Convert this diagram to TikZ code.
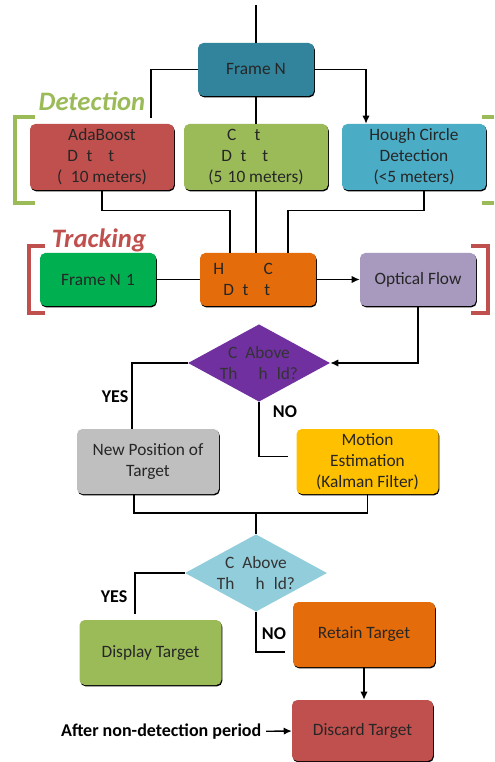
\documentclass[tikz,border=0pt]{standalone}
\usepackage{fontspec}
\setmainfont{Carlito}
\usetikzlibrary{arrows.meta,positioning,shapes.geometric,shadows}

\definecolor{teal1}{HTML}{31849B}
\definecolor{red1}{HTML}{C0504D}
\definecolor{olive1}{HTML}{9BBB59}
\definecolor{aqua1}{HTML}{4BACC6}
\definecolor{green1}{HTML}{00B050}
\definecolor{orange1}{HTML}{E46C0A}
\definecolor{lilac1}{HTML}{A89ABF}
\definecolor{purple1}{HTML}{7030A0}
\definecolor{grey1}{HTML}{BFBFBF}
\definecolor{gold1}{HTML}{FFC000}
\definecolor{sky1}{HTML}{92CDDC}

\tikzset{
  box/.style={rectangle,rounded corners=4pt,align=center,text=black!85,inner sep=1pt,
    font=\fontsize{13}{15.75}\selectfont,
    drop shadow={shadow xshift=0.6pt,shadow yshift=-1pt,fill=black,opacity=1}},
  widebox/.style={box,minimum width=108pt,minimum height=49.5pt},
  smallbox/.style={box,minimum width=87pt,minimum height=39.75pt},
  midbox/.style={box,minimum width=106.5pt,minimum height=48.75pt},
  decision/.style={diamond,shape aspect=1.84,minimum width=106.5pt,minimum height=58pt,
    inner sep=0pt,align=center,text=black!80,font=\fontsize{13}{15.75}\selectfont},
  link/.style={line width=1pt},
  flow/.style={link,-{Latex[length=6pt,width=5.5pt]}},
  lbl/.style={font=\bfseries\fontsize{13.5}{15}\selectfont},
  stage/.style={font=\bfseries\itshape\fontsize{20}{22}\selectfont},
  bracket/.style={line width=3.5pt}
}

\begin{document}
\begin{tikzpicture}[x=0.75pt,y=-0.75pt]
  \useasboundingbox (0,0) rectangle (494,762);

  \draw[bracket,olive1] (35,117) -- (15,117) -- (15,203) -- (35,203);
  \draw[bracket,olive1] (482,117) -- (494,117);
  \draw[bracket,olive1] (482,203) -- (494,203);
  \draw[bracket,red1] (45,246) -- (29,246) -- (29,313) -- (45,313);
  \draw[bracket,red1] (471,246) -- (488,246) -- (488,313) -- (471,313);

  \node[stage,text=olive1] (DL) at (92,101) {Detection};
  \node[stage,text=red1] (TL) at (99,240) {Tracking};

  \coordinate (T) at (256,5);
  \node[smallbox,fill=teal1] (FN) at (256,69.5) {Frame N};

  \node[widebox,fill=red1] (AB) at (102,157) {AdaBoost\\D\phantom{e}t\phantom{ec}t\phantom{ion}\\(\phantom{>}10 meters)};
  \node[widebox,fill=olive1] (CD) at (256,157) {C\phantom{on}t\phantom{our}\\D\phantom{e}t\phantom{ec}t\phantom{ion}\\(5\phantom{-}10 meters)};
  \node[widebox,fill=aqua1] (HC) at (414,157) {Hough Circle\\Detection\\(<5 meters)};

  \node[smallbox,fill=green1] (FN1) at (98,279.5) {Frame N\phantom{-}1};
  \node[smallbox,fill=orange1] (HCD) at (258,279.5) {H\phantom{ough} C\phantom{ircle}\\D\phantom{e}t\phantom{ec}t\phantom{ion}};
  \node[smallbox,fill=lilac1] (OF) at (418,279.5) {Optical Flow};

  \node[decision,fill=purple1] (D1) at (259,363) {C\phantom{i} Above\\Th\phantom{res}h\phantom{o}ld?};
  \node[midbox,fill=grey1] (NP) at (148,461.5) {New Position of\\Target};
  \node[midbox,fill=gold1] (ME) at (367.5,461.5) {Motion\\Estimation\\(Kalman Filter)};

  \coordinate (J) at (256,513);
  \node[decision,fill=sky1] (D2) at (256,573) {C\phantom{i} Above\\Th\phantom{res}h\phantom{o}ld?};
  \node[midbox,fill=olive1] (DT) at (150.5,652.5) {Display Target};
  \node[midbox,fill=orange1] (RT) at (364,634.5) {Retain Target};
  \node[box,fill=red1,minimum width=105.75pt,minimum height=45.75pt] (DC) at (362.5,730.5) {Discard Target};
  \node[lbl,anchor=east] (AN) at (266,732) {After non-detection period};

  \node[lbl] (Y1) at (115,397) {YES};
  \node[lbl] (N1) at (285,412) {NO};
  \node[lbl] (Y2) at (114,597) {YES};
  \node[lbl] (N2) at (274,634) {NO};

  \draw[link] (T) -- (FN.north);
  \draw[link] (FN.west) -| ([xshift=36.75pt,yshift=4.5pt]AB.north);
  \draw[link] (FN.south) -- (CD.north);
  \draw[flow] (FN.east) -| ([xshift=-36pt]HC.north);
  \draw[link] (AB.south) -- ++(0,20) -| ([xshift=-21pt]HCD.north);
  \draw[link] (CD.south) -- (CD.south |- HCD.north);
  \draw[link] ([xshift=7.5pt]HC.south) -- ++(0,20) -| ([xshift=22.5pt]HCD.north);
  \draw[link] (FN1) -- (HCD);
  \draw[flow] (HCD) -- (OF);
  \draw[flow] (OF.south) |- (D1.east);
  \draw[link] (D1.west) -| ([xshift=-12pt]NP.north);
  \draw[link] (D1.south) |- ([xshift=-6pt,yshift=4pt]ME.west);
  \draw[link] ([xshift=-10.5pt]NP.south) |- (J) -| (ME.south);
  \draw[link] (J) -- (D2.north);
  \draw[link] (D2.west) -| ([xshift=-11.6pt,yshift=4.5pt]DT.north);
  \draw[link] (D2.south) |- ([xshift=-6pt,yshift=-13pt]RT.west);
  \draw[flow] (RT.south) -- (RT.south |- DC.north);
  \draw[flow] (AN) -- (DC);
\end{tikzpicture}
\end{document}
